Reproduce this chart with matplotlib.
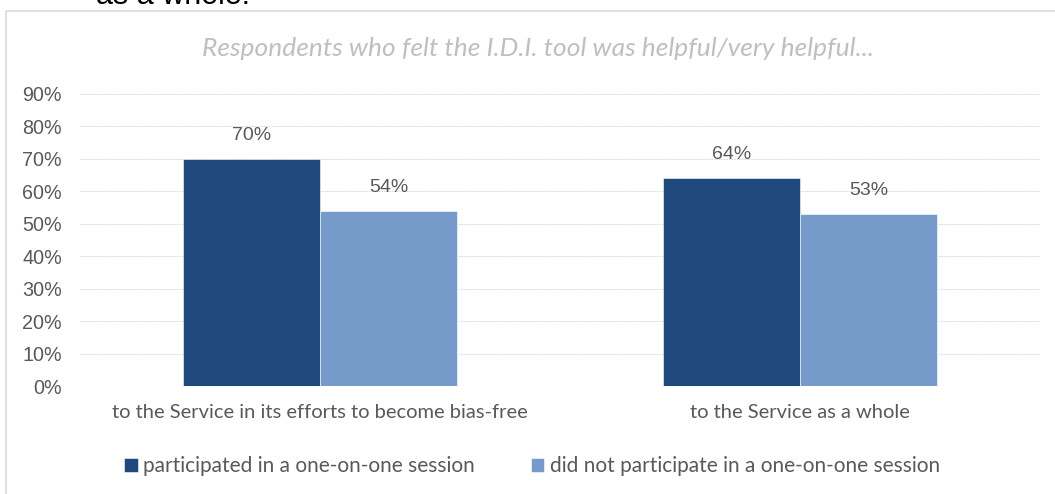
import numpy as np
import matplotlib.pyplot as plt
from matplotlib.patches import Rectangle

categories = ["to the Service in its efforts to become bias-free", "to the Service as a whole"]
participated = [0.70, 0.64]
not_participated = [0.54, 0.53]
series_names = ["participated in a one-on-one session",
                "did not participate in a one-on-one session"]
title = "Respondents who felt the I.D.I. tool was helpful/very helpful..."
yticks = [0, 0.1, 0.2, 0.3, 0.4, 0.5, 0.6, 0.7, 0.8, 0.9]

dark = "#1f497d"
light = "#769bcb"
text_gray = "#595959"

W, H = 1055, 494
fig = plt.figure(figsize=(W / 100, H / 100), dpi=100)

# chart frame
fig.patches.append(Rectangle((6 / W, -0.05), 1.1, 1 - 11 / H + 0.05, transform=fig.transFigure,
                             fill=False, edgecolor="#d9d9d9", linewidth=1.2))
# leftover document text above the chart (clipped in the original too)
fig.text(96 / W, 1 - 4 / H, "as a whole.", fontsize=22, color="black",
         family="Liberation Sans", va="baseline", ha="left")

ax = fig.add_axes([80 / W, 108 / H, 960 / W, 292 / H])
x = np.arange(len(categories))
bw = 0.285
b1 = ax.bar(x - bw / 2, participated, bw, color=dark, edgecolor="white", linewidth=0.4,
            label=series_names[0], zorder=3)
b2 = ax.bar(x + bw / 2, not_participated, bw, color=light, edgecolor="white", linewidth=0.4,
            label=series_names[1], zorder=3)

for bars, vals in ((b1, participated), (b2, not_participated)):
    for r, v in zip(bars, vals):
        ax.annotate(f"{v:.0%}", (r.get_x() + r.get_width() / 2, v), xytext=(0, 17),
                    textcoords="offset points", ha="center", va="center",
                    fontsize=14, color=text_gray, family="Liberation Sans")

ax.set_xlim(-0.5, 1.5)
ax.set_ylim(0, 0.9)
ax.set_yticks(yticks)
ax.set_yticklabels([f"{t:.0%}" for t in yticks], family="Liberation Sans",
                   fontsize=14.2, color=text_gray)
ax.set_xticks(x)
ax.set_xticklabels(categories, family="Lato", fontsize=14.5, color=text_gray)
ax.tick_params(axis="both", length=0)
ax.tick_params(axis="y", pad=13)
ax.tick_params(axis="x", pad=13)
ax.grid(axis="y", color="#c8c8c8", linestyle=(0, (1, 1)), linewidth=0.6, zorder=0)
for s in ax.spines.values():
    s.set_visible(False)

fig.text(538 / W, 1 - 48 / H, title, ha="center", va="center", fontsize=19,
         style="italic", color="#bfbfbf", family="Lato")

leg = fig.legend(handles=[b1, b2], loc="center", bbox_to_anchor=(532 / W, 1 - 466 / H),
                 ncol=2, frameon=False, prop={"family": "Lato", "size": 15},
                 handlelength=0.65, handleheight=0.65, handletextpad=0.25, columnspacing=2.7)
for t in leg.get_texts():
    t.set_color(text_gray)

fig.savefig("out.png", dpi=100)
